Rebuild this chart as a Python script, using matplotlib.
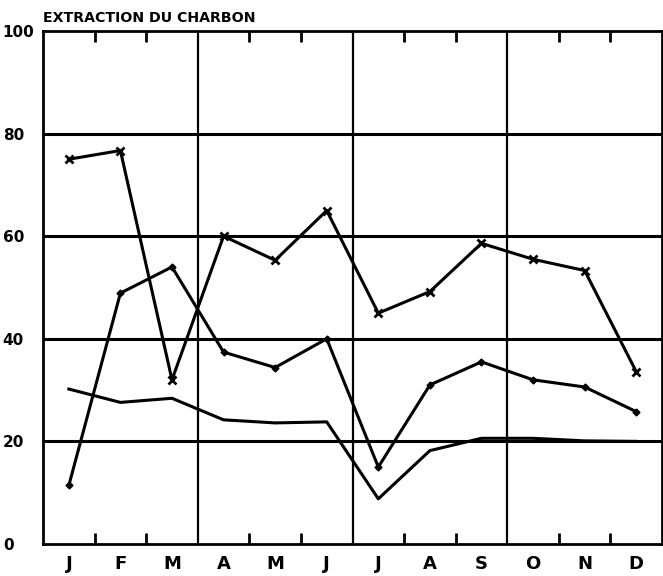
import numpy as np
import matplotlib.pyplot as plt

# data
months = ["J", "F", "M", "A", "M", "J", "J", "A", "S", "O", "N", "D"]
serie_croix = [75.0, 76.7, 32.0, 60.0, 55.3, 65.0, 45.0, 49.2, 58.6, 55.5, 53.3, 33.6]
serie_points = [11.4, 48.9, 54.0, 37.4, 34.4, 40.0, 15.0, 31.0, 35.5, 32.0, 30.6, 25.8]
serie_simple = [30.2, 27.6, 28.4, 24.2, 23.6, 23.8, 8.8, 18.2, 20.6, 20.6, 20.1, 20.0]
y_ticks = [0, 20, 40, 60, 80, 100]

fig = plt.figure(figsize=(6.63, 5.76), dpi=100)
ax = fig.add_axes([0.0649, 0.0556, 0.9336, 0.8906])

x = np.arange(len(months))
ax.set_xlim(-0.5, len(months) - 0.5)
ax.set_ylim(0, 100)

# grid: thick horizontals, quarter separators
for yv in y_ticks[1:-1]:
    ax.axhline(yv, color="black", lw=2.2, zorder=1)
for q in (2.5, 5.5, 8.5):
    ax.axvline(q, color="black", lw=1.6, zorder=1)

ax.plot(x, serie_croix, color="black", lw=2.2, marker="x", ms=6, mew=2, zorder=3)
ax.plot(x, serie_points, color="black", lw=2.2, marker="D", ms=3.5, zorder=3)
ax.plot(x, serie_simple, color="black", lw=2.2, zorder=3)

for s in ax.spines.values():
    s.set_linewidth(2.0)

# month labels at centres, small inward ticks at month boundaries
ax.set_xticks(x)
ax.set_xticklabels(months, fontsize=13, fontweight="bold")
ax.tick_params(axis="x", which="major", length=0, pad=8)
minor = [b for b in np.arange(0.5, 11, 1.0) if b not in (2.5, 5.5, 8.5)]
ax.set_xticks(minor, minor=True)
ax.tick_params(axis="x", which="minor", direction="in", length=8, width=2,
               top=True, bottom=True)

ax.set_yticks(y_ticks)
ax.set_yticklabels([str(v) for v in y_ticks], fontsize=11, fontweight="bold")
ax.tick_params(axis="y", which="major", length=0, pad=29)
for lab in ax.get_yticklabels():
    lab.set_horizontalalignment("left")

fig.text(0.0649, 0.968, "EXTRACTION DU CHARBON", fontsize=10.2,
         fontweight="bold", ha="left", va="center")

fig.savefig("out.png", dpi=100)
